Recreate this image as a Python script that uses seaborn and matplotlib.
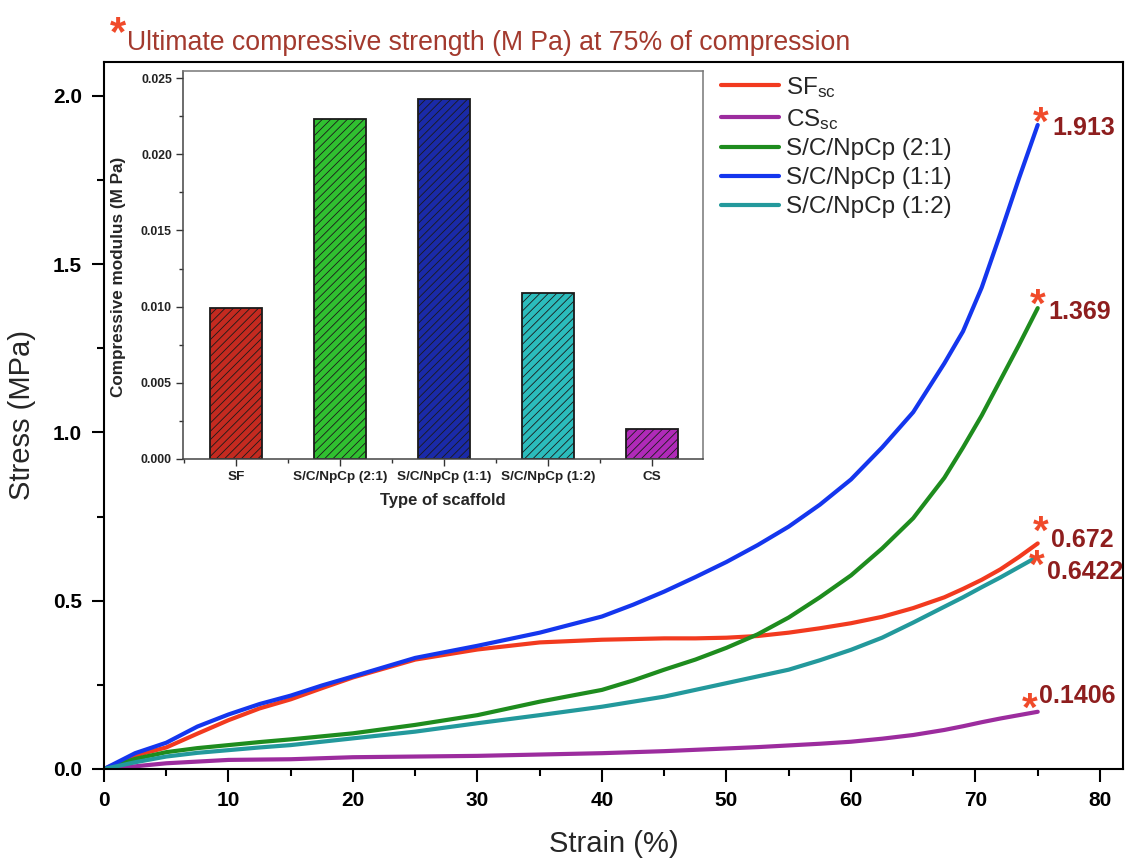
import numpy as np
import pandas as pd
import matplotlib
matplotlib.use("Agg")
import matplotlib.pyplot as plt
import seaborn as sns
from matplotlib.ticker import MultipleLocator, FormatStrFormatter

# ---------------- data ----------------
strain = [0, 2.5, 5, 7.5, 10, 12.5, 15, 17.5, 20, 25, 30, 35, 40, 42.5, 45, 47.5,
          50, 52.5, 55, 57.5, 60, 62.5, 65, 67.5, 69, 70.5, 72, 73.5, 75]
sf_stress = [0, 0.040, 0.064, 0.105, 0.145, 0.180, 0.207, 0.240, 0.272, 0.325,
             0.355, 0.376, 0.384, 0.386, 0.388, 0.388, 0.390, 0.395, 0.405, 0.418,
             0.433, 0.452, 0.478, 0.510, 0.535, 0.562, 0.593, 0.630, 0.670]
cs_stress = [0, 0.008, 0.017, 0.022, 0.027, 0.028, 0.029, 0.032, 0.035, 0.037,
             0.039, 0.043, 0.047, 0.050, 0.053, 0.057, 0.061, 0.065, 0.070, 0.075,
             0.081, 0.090, 0.101, 0.116, 0.127, 0.139, 0.150, 0.160, 0.170]
s21_stress = [0, 0.030, 0.050, 0.062, 0.071, 0.080, 0.088, 0.097, 0.106, 0.131,
              0.160, 0.200, 0.235, 0.263, 0.295, 0.325, 0.360, 0.400, 0.450, 0.510,
              0.575, 0.655, 0.745, 0.865, 0.955, 1.050, 1.155, 1.260, 1.369]
s11_stress = [0, 0.047, 0.078, 0.126, 0.162, 0.193, 0.218, 0.248, 0.275, 0.330,
              0.366, 0.405, 0.453, 0.488, 0.527, 0.570, 0.615, 0.665, 0.720, 0.785,
              0.860, 0.955, 1.060, 1.205, 1.300, 1.430, 1.590, 1.755, 1.913]
s12_stress = [0, 0.020, 0.037, 0.048, 0.056, 0.064, 0.071, 0.081, 0.091, 0.111,
              0.136, 0.160, 0.185, 0.200, 0.215, 0.235, 0.255, 0.275, 0.295, 0.323,
              0.354, 0.390, 0.435, 0.482, 0.510, 0.540, 0.569, 0.600, 0.631]

series_labels = ["SF$_{sc}$", "CS$_{sc}$", "S/C/NpCp (2:1)",
                 "S/C/NpCp (1:1)", "S/C/NpCp (1:2)"]
series_values = [sf_stress, cs_stress, s21_stress, s11_stress, s12_stress]
line_colors = ["#f23a1f", "#9c2c9e", "#1e8c1e", "#1436ee", "#23999c"]

ucs_values = [0.672, 0.1406, 1.369, 1.913, 0.6422]
ucs_labels = ["0.672", "0.1406", "1.369", "1.913", "0.6422"]
# offsets (points) of asterisk and value text from the curve end
star_offsets = [(2, -0.9), (-6, 0.6), (0, -5.9), (2, -7), (-0.5, -17.7)]
text_offsets = [(9.5, -2.8), (0.8, 13.3), (7.6, -7.9), (10.8, -7), (7, -19)]

scaffold_types = ["SF", "S/C/NpCp (2:1)", "S/C/NpCp (1:1)", "S/C/NpCp (1:2)", "CS"]
compressive_modulus = [0.0099, 0.0223, 0.0236, 0.0109, 0.0020]
bar_colors = ["#c42a20", "#30c030", "#1a2aa8", "#2bbcbc", "#b02ab8"]

# ---------------- style ----------------
sns.set_theme(style="ticks")
plt.rcParams["font.family"] = ["Liberation Sans", "DejaVu Sans"]
plt.rcParams["mathtext.default"] = "regular"
plt.rcParams["hatch.linewidth"] = 0.6
plt.rcParams["hatch.color"] = "#1a1a1a"

fig = plt.figure(figsize=(11.27, 8.61), dpi=100)
ax = fig.add_axes([104 / 1127, 1 - 769 / 861, (1123 - 104) / 1127, (769 - 62) / 861])

df = pd.concat(
    [pd.DataFrame({"Strain": strain, "Stress": vals, "Scaffold": lab})
     for vals, lab in zip(series_values, series_labels)],
    ignore_index=True)

sns.lineplot(data=df, x="Strain", y="Stress", hue="Scaffold",
             hue_order=series_labels, palette=dict(zip(series_labels, line_colors)),
             linewidth=3.0, estimator=None, sort=False, legend=False, ax=ax)
for ln in ax.lines:
    ln.set_solid_joinstyle("round")
    ln.set_solid_capstyle("round")

ax.set_xlim(0, 81.85)
ax.set_ylim(0, 2.1)
ax.xaxis.set_major_locator(MultipleLocator(10))
ax.xaxis.set_minor_locator(MultipleLocator(5))
ax.yaxis.set_major_locator(MultipleLocator(0.5))
ax.yaxis.set_minor_locator(MultipleLocator(0.25))
ax.yaxis.set_major_formatter(FormatStrFormatter("%.1f"))
ax.tick_params(which="major", direction="out", length=9, width=1.5,
               labelsize=15, pad=7, color="black", labelcolor="black")
ax.tick_params(which="minor", direction="out", length=5, width=1.5, color="black")
for lab in ax.get_xticklabels() + ax.get_yticklabels():
    lab.set_fontweight("bold")
for sp in ax.spines.values():
    sp.set_linewidth(1.5)
    sp.set_color("black")
ax.set_xlabel("Strain (%)", fontsize=21, labelpad=14)
ax.set_ylabel("Stress (MPa)", fontsize=21, labelpad=12)

ax.legend(ax.lines[:5], series_labels, loc="upper left",
          bbox_to_anchor=(721 / 1127, 1 - 75 / 861), bbox_transform=fig.transFigure,
          frameon=False, fontsize=17.5, handlelength=2.4, handletextpad=0.29,
          labelspacing=0.28, borderpad=0, borderaxespad=0)

star_color = "#f04a2a"
value_color = "#8e1e1e"
for val, lab, so, to in zip(ucs_values, ucs_labels, star_offsets, text_offsets):
    ax.annotate("*", xy=(75, val), xytext=so, textcoords="offset points",
                ha="center", va="baseline", fontsize=29, fontweight="bold",
                color=star_color, annotation_clip=False)
    ax.annotate(lab, xy=(75, val), xytext=to, textcoords="offset points",
                ha="left", va="baseline", fontsize=18, fontweight="bold",
                color=value_color, annotation_clip=False)

# title
fig.text(118 / 1127, 1 - 45.5 / 861, "*", color=star_color, fontsize=30,
         fontweight="bold", ha="center", va="baseline")
fig.text(127.4 / 1127, 1 - 50 / 861,
         "Ultimate compressive strength (M Pa) at 75% of compression",
         color="#a33a2e", fontsize=19.2, ha="left", va="baseline")

# ---------------- inset ----------------
axin = fig.add_axes([183 / 1127, 1 - 459 / 861, 520 / 1127, 388 / 861])
sns.barplot(x=scaffold_types, y=compressive_modulus, hue=scaffold_types,
            order=scaffold_types, hue_order=scaffold_types, palette=bar_colors,
            legend=False, width=0.5, edgecolor="#1a1a1a", linewidth=1.3,
            saturation=1, ax=axin)
for p in axin.patches:
    p.set_hatch("////")
axin.set_xlim(-0.51, 4.49)
axin.set_ylim(0, 0.02546)
axin.yaxis.set_major_locator(MultipleLocator(0.005))
axin.yaxis.set_minor_locator(MultipleLocator(0.0025))
axin.yaxis.set_major_formatter(FormatStrFormatter("%.3f"))
axin.xaxis.set_minor_locator(MultipleLocator(1, offset=0.5))
axin.tick_params(axis="y", which="major", direction="out", length=5, width=1,
                 labelsize=8.8, pad=3, color="#333333", labelcolor="#222222")
axin.tick_params(axis="x", which="major", direction="out", length=5, width=1,
                 labelsize=9.7, pad=4, color="#333333", labelcolor="#222222")
axin.tick_params(which="minor", direction="out", length=3, width=1, color="#333333")
for lab in axin.get_xticklabels() + axin.get_yticklabels():
    lab.set_fontweight("bold")
for name, sp in axin.spines.items():
    sp.set_linewidth(1.1)
    sp.set_color("#444444" if name in ("left", "bottom") else "#777777")
axin.set_xlabel("Type of scaffold", fontsize=12, fontweight="bold", labelpad=7)
axin.set_ylabel("Compressive modulus (M Pa)", fontsize=12.3, fontweight="bold",
                labelpad=11)
axin.yaxis.label.set_y(0.469)

fig.savefig("out.png", dpi=100)
